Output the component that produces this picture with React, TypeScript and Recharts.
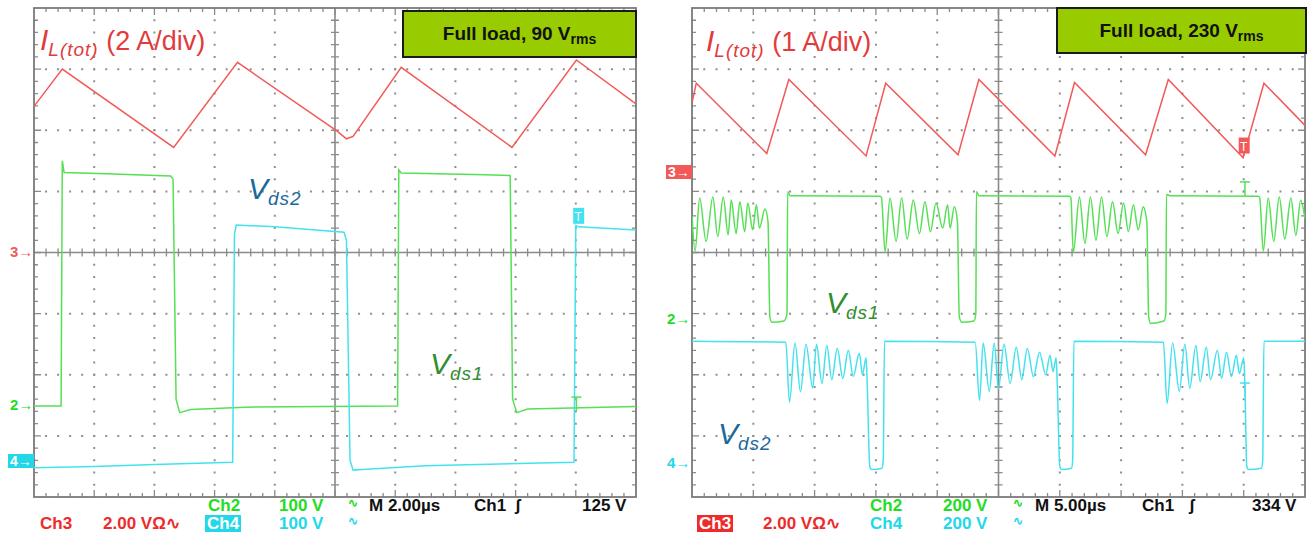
import React from "react";
import { LineChart, Line, XAxis, YAxis, ReferenceArea, ReferenceDot } from "recharts";

// time in divisions (0..10), value in divisions (-4..4, 0 = centre line)
const leftIL: [number, number][] = [
  [0, 2.39], [0.47, 3.0], [2.32, 1.72], [3.38, 3.11], [5.03, 1.99], [5.19, 1.86],
  [5.3, 1.9], [6.1, 3.03], [7.94, 1.72], [9.01, 3.15], [10, 2.43],
];
const leftVds1: [number, number][] = [
  [0, -2.51], [0.45, -2.51], [0.47, 1.5], [0.5, 1.31], [1.2, 1.29], [2.27, 1.25],
  [2.31, 1.2], [2.36, -2.4], [2.42, -2.62], [2.6, -2.57], [3.5, -2.53], [6.04, -2.51],
  [6.06, 1.35], [6.1, 1.3], [7.5, 1.27], [7.91, 1.26], [7.95, -2.4], [8.02, -2.62],
  [8.2, -2.56], [10, -2.52],
];
const leftVds2: [number, number][] = [
  [0, -3.52], [1, -3.5], [2, -3.47], [3.3, -3.43], [3.33, 0.3], [3.36, 0.45],
  [4.0, 0.42], [5.15, 0.33], [5.19, 0.2], [5.25, -3.4], [5.3, -3.56], [5.45, -3.55],
  [6.5, -3.49], [8.97, -3.43], [9.0, 0.44], [9.05, 0.42], [10, 0.37],
];

const rightIL: [number, number][] = [
  [0, 2.45], [0.07, 2.77], [1.22, 1.62], [1.58, 2.83], [2.84, 1.58], [3.16, 2.77],
  [4.34, 1.6], [4.68, 2.83], [5.92, 1.58], [6.24, 2.78], [7.4, 1.6], [7.77, 2.83],
  [8.99, 1.55], [9.33, 2.77], [10, 2.08],
];
const rightVds1: [number, number][] = [
  [0, 0.6], [0.05, 0.02], [0.125, 0.89], [0.23, 0.18], [0.34, 0.91], [0.42, 0.26],
  [0.51, 0.91], [0.59, 0.29], [0.64, 0.86], [0.72, 0.31], [0.78, 0.83], [0.86, 0.34],
  [0.91, 0.81], [0.99, 0.37], [1.05, 0.78], [1.1, 0.4], [1.19, 0.71], [1.24, 0.5],
  [1.27, -1.05], [1.3, -1.14], [1.5, -1.12], [1.55, -1.0], [1.56, 1.0], [1.6, 0.93],
  [3.07, 0.92],
  [3.09, 0.9], [3.15, 0.01], [3.23, 0.89], [3.33, 0.18], [3.42, 0.89], [3.51, 0.22],
  [3.61, 0.86], [3.71, 0.31], [3.8, 0.83], [3.89, 0.34], [3.98, 0.81], [4.09, 0.4],
  [4.17, 0.78], [4.21, 0.4], [4.28, 0.75], [4.33, 0.5], [4.36, -1.05], [4.4, -1.14],
  [4.6, -1.12], [4.63, -1.0], [4.64, 1.0], [4.68, 0.93], [6.16, 0.92],
  [6.18, 0.9], [6.22, 0.0], [6.32, 0.91], [6.41, 0.15], [6.5, 0.91], [6.59, 0.2],
  [6.68, 0.91], [6.77, 0.26], [6.86, 0.83], [6.95, 0.31], [7.04, 0.81], [7.12, 0.34],
  [7.2, 0.78], [7.28, 0.37], [7.36, 0.75], [7.42, 0.5], [7.45, -1.05], [7.48, -1.16],
  [7.7, -1.12], [7.73, -1.0], [7.74, 0.95], [7.8, 0.93], [9.24, 0.92],
  [9.26, 0.9], [9.32, 0.02], [9.4, 0.89], [9.49, 0.18], [9.58, 0.91], [9.67, 0.22],
  [9.77, 0.89], [9.85, 0.28], [9.93, 0.86], [10, 0.55],
];
const rightVds2: [number, number][] = [
  [0, -1.45], [1.53, -1.47],
  [1.59, -2.45], [1.68, -1.48], [1.77, -2.28], [1.86, -1.5], [1.97, -2.22], [2.03, -1.5],
  [2.12, -2.14], [2.2, -1.52], [2.28, -2.08], [2.37, -1.57], [2.46, -2.06], [2.55, -1.6],
  [2.63, -2.03], [2.73, -1.65], [2.78, -2.0], [2.84, -1.72], [2.86, -2.2], [2.9, -3.5],
  [2.93, -3.55], [3.1, -3.53], [3.12, -3.4], [3.14, -1.45], [4.62, -1.47],
  [4.69, -2.42], [4.75, -1.48], [4.85, -2.27], [4.93, -1.48], [5.0, -2.22], [5.09, -1.5],
  [5.19, -2.14], [5.29, -1.55], [5.38, -2.08], [5.47, -1.57], [5.57, -2.03], [5.67, -1.63],
  [5.77, -2.0], [5.84, -1.68], [5.89, -1.95], [5.94, -1.72], [5.96, -2.2], [6.0, -3.5],
  [6.03, -3.55], [6.19, -3.53], [6.21, -3.4], [6.23, -1.45], [7.69, -1.47],
  [7.75, -2.47], [7.84, -1.48], [7.95, -2.27], [8.04, -1.5], [8.12, -2.22], [8.22, -1.52],
  [8.29, -2.11], [8.39, -1.55], [8.46, -2.08], [8.57, -1.6], [8.64, -2.06], [8.72, -1.63],
  [8.8, -2.03], [8.88, -1.68], [8.93, -1.98], [9.0, -1.72], [9.02, -2.2], [9.05, -3.5],
  [9.08, -3.55], [9.29, -3.53], [9.31, -3.4], [9.33, -1.45], [10, -1.45],
];

const RED = "#f25a5a";
const GREEN = "#55e055";
const CYAN = "#44e2ee";
const SCOPE_FONT = '"Liberation Sans", Arial, sans-serif';

const toPts = (arr: [number, number][]) => arr.map(([t, v]) => ({ t, v }));

const M = 6;

// scope graticule, drawn inside the area that the chart's scales give for the full screen
function Graticule(p: any) {
  const { x, y, width, height } = p;
  const dx = width / 10;
  const dy = height / 8;
  const sx = dx / 5;
  const sy = dy / 5;
  const dots: React.ReactNode[] = [];
  for (let i = 1; i < 10; i++) {
    if (i === 5) continue;
    const xx = x + i * dx;
    dots.push(
      <line key={`v${i}`} x1={xx} y1={y} x2={xx} y2={y + height} stroke="#8f8f8f" strokeWidth={2}
        strokeDasharray={`2 ${sy - 2}`} strokeDashoffset={1} />
    );
  }
  for (let j = 1; j < 8; j++) {
    if (j === 4) continue;
    const yy = y + j * dy;
    dots.push(
      <line key={`h${j}`} x1={x} y1={yy} x2={x + width} y2={yy} stroke="#8f8f8f" strokeWidth={2}
        strokeDasharray={`2 ${sx - 2}`} strokeDashoffset={1} />
    );
  }
  let d = "";
  const cx = x + width / 2;
  const cy = y + height / 2;
  for (let k = 1; k < 50; k++) {
    const xx = x + k * sx;
    const big = k % 5 === 0 ? 3 : 0;
    d += `M${xx},${cy - 4}V${cy + 4}`;
    d += `M${xx},${y}v${4 + big}`;
    d += `M${xx},${y + height}v${-4 - big}`;
  }
  for (let k = 1; k < 40; k++) {
    const yy = y + k * sy;
    const big = k % 5 === 0 ? 3 : 0;
    d += `M${cx - 4},${yy}H${cx + 4}`;
    d += `M${x},${yy}h${4 + big}`;
    d += `M${x + width},${yy}h${-4 - big}`;
  }
  return (
    <g>
      {dots}
      <path d={d} stroke="#8a8a8a" strokeWidth={1.3} fill="none" />
      <line x1={cx} y1={y} x2={cx} y2={y + height} stroke="#8a8a8a" strokeWidth={1.6} />
      <line x1={x} y1={cy} x2={x + width} y2={cy} stroke="#8a8a8a" strokeWidth={1.6} />
      <rect x={x} y={y} width={width} height={height} fill="none" stroke="#7a7a7a" strokeWidth={1.8} />
    </g>
  );
}

type Props = {
  left: number;
  top: number;
  width: number;
  height: number;
  il: [number, number][];
  vds1: [number, number][];
  vds2: [number, number][];
  curve: "linear" | "monotone";
  children?: React.ReactNode;
};

function Scope({ left, top, width, height, il, vds1, vds2, curve, children }: Props) {
  return (
    <div style={{ position: "absolute", left: left - M, top: top - M }}>
      <LineChart width={width + 2 * M} height={height + 2 * M} margin={{ top: M, right: M, bottom: M, left: M }}>
        <XAxis type="number" dataKey="t" domain={[0, 10]} hide allowDataOverflow />
        <YAxis type="number" dataKey="v" domain={[-4, 4]} hide allowDataOverflow />
        <ReferenceArea x1={0} x2={10} y1={-4} y2={4} shape={(p: any) => <Graticule {...p} />} />
        <Line data={toPts(il)} dataKey="v" type="linear" dot={false} stroke={RED} strokeWidth={1.5} isAnimationActive={false} />
        <Line data={toPts(vds1)} dataKey="v" type={curve} dot={false} stroke={GREEN} strokeWidth={1.5} isAnimationActive={false} />
        <Line data={toPts(vds2)} dataKey="v" type={curve} dot={false} stroke={CYAN} strokeWidth={1.5} isAnimationActive={false} />
        {children}
      </LineChart>
    </div>
  );
}

const abs = (left: number, top: number, extra: React.CSSProperties = {}): React.CSSProperties => ({
  position: "absolute",
  left,
  top,
  whiteSpace: "nowrap",
  lineHeight: 1,
  ...extra,
});

function SigLabel({ left, top, main, sub, tail, color }: { left: number; top: number; main: string; sub: string; tail?: string; color: string }) {
  return (
    <div style={abs(left, top, { color, fontFamily: '"Liberation Sans", Arial, sans-serif' })}>
      <span style={{ fontStyle: "italic", fontSize: 30 }}>{main}</span>
      <span style={{ fontStyle: "italic", fontSize: 19, position: "relative", top: 6, letterSpacing: 1 }}>{sub}</span>
      {tail && <span style={{ fontSize: 27 }}>{tail}</span>}
    </div>
  );
}

function LoadBox({ left, top, width, height, text }: { left: number; top: number; width: number; height: number; text: string }) {
  return (
    <div
      style={{
        position: "absolute",
        left,
        top,
        width,
        height,
        boxSizing: "border-box",
        background: "#99cc00",
        border: "2px solid #1a1a1a",
        display: "flex",
        alignItems: "center",
        justifyContent: "center",
        fontFamily: '"Liberation Sans", Arial, sans-serif',
        fontWeight: "bold",
        fontSize: 19,
        color: "#111",
      }}
    >
      <span>
        {text}
        <span style={{ fontSize: 14, position: "relative", top: 4 }}>rms</span>
      </span>
    </div>
  );
}

function ST({ left, top, color, text, box, size = 17 }: { left: number; top: number; color: string; text: string; box?: boolean; size?: number }) {
  return (
    <div
      style={abs(left, top, {
        fontFamily: SCOPE_FONT,
        fontWeight: "bold",
        fontSize: size,
        color: box ? "#fff" : color,
        background: box ? color : "transparent",
        padding: box ? "0 2px" : 0,
      })}
    >
      {text}
    </div>
  );
}

const boxMarker = (color: string) => (props: any) => (
  <g>
    <rect x={props.cx - 5} y={props.cy - 8} width={11} height={16} fill={color} />
    <text x={props.cx} y={props.cy + 5} fill="#fff" fontSize={12} textAnchor="middle" fontFamily="Arial">T</text>
  </g>
);

const tMarker = (color: string) => (props: any) => (
  <g stroke={color} strokeWidth={1.5}>
    <line x1={props.cx} y1={props.cy - 7} x2={props.cx} y2={props.cy + 7} />
    <line x1={props.cx - 5} y1={props.cy - 7} x2={props.cx + 5} y2={props.cy - 7} />
  </g>
);

export default function App() {
  return (
    <div style={{ position: "absolute", left: 0, top: 0, width: 1309, height: 538, background: "#fff", overflow: "hidden" }}>
      <Scope left={34} top={8} width={602} height={489} il={leftIL} vds1={leftVds1} vds2={leftVds2} curve="linear">
        <ReferenceDot x={9.04} y={0.6} r={0} shape={boxMarker(CYAN)} />
        <ReferenceDot x={9.01} y={-2.48} r={0} shape={tMarker(GREEN)} />
      </Scope>
      <Scope left={692} top={8} width={613} height={489} il={rightIL} vds1={rightVds1} vds2={rightVds2} curve="monotone">
        <ReferenceDot x={9.0} y={1.75} r={0} shape={boxMarker(RED)} />
        <ReferenceDot x={9.02} y={1.04} r={0} shape={tMarker(GREEN)} />
        <ReferenceDot x={9.02} y={-2.25} r={0} shape={tMarker(CYAN)} />
      </Scope>

      {/* left panel annotations */}
      <SigLabel left={40} top={25} main="I" sub="L(tot)" tail=" (2 A/div)" color="#e23b3b" />
      <LoadBox left={402} top={10} width={235} height={48} text="Full load, 90 V" />
      <SigLabel left={248} top={174} main="V" sub="ds2" color="#1c6a9c" />
      <SigLabel left={430} top={349} main="V" sub="ds1" color="#318f31" />

      <ST left={10} top={244} color={RED} text="3→" size={15} />
      <ST left={10} top={397} color="#22dd22" text="2→" size={15} />
      <ST left={8} top={454} color="#22d8e8" text="4→" size={14} box />

      <ST left={208} top={497} color="#22dd22" text="Ch2" />
      <ST left={279} top={497} color="#22dd22" text="100 V" />
      <ST left={348} top={497} color="#22dd22" text="∿" size={12} />
      <ST left={369} top={497} color="#111" text="M 2.00µs" />
      <ST left={474} top={497} color="#111" text="Ch1" />
      <ST left={515} top={497} color="#111" text="ʃ" />
      <ST left={582} top={497} color="#111" text="125 V" />
      <ST left={40} top={515} color="#ee2a2a" text="Ch3" />
      <ST left={103} top={515} color="#ee2a2a" text="2.00 VΩ∿" />
      <ST left={205} top={515} color="#22d8e8" text="Ch4" box />
      <ST left={279} top={515} color="#22d8e8" text="100 V" />
      <ST left={348} top={515} color="#22d8e8" text="∿" size={12} />

      {/* right panel annotations */}
      <SigLabel left={706} top={26} main="I" sub="L(tot)" tail=" (1 A/div)" color="#e23b3b" />
      <LoadBox left={1056} top={7} width={251} height={47} text="Full load, 230 V" />
      <SigLabel left={826} top={288} main="V" sub="ds1" color="#318f31" />
      <SigLabel left={718} top={419} main="V" sub="ds2" color="#1c6a9c" />

      <ST left={666} top={165} color={RED} text="3→" size={14} box />
      <ST left={667} top={311} color="#22dd22" text="2→" size={15} />
      <ST left={667} top={455} color="#22d8e8" text="4→" size={15} />

      <ST left={870} top={497} color="#22dd22" text="Ch2" />
      <ST left={943} top={497} color="#22dd22" text="200 V" />
      <ST left={1013} top={497} color="#22dd22" text="∿" size={12} />
      <ST left={1035} top={497} color="#111" text="M 5.00µs" />
      <ST left={1142} top={497} color="#111" text="Ch1" />
      <ST left={1189} top={497} color="#111" text="ʃ" />
      <ST left={1252} top={497} color="#111" text="334 V" />
      <ST left={697} top={515} color="#ee2a2a" text="Ch3" box />
      <ST left={763} top={515} color="#ee2a2a" text="2.00 VΩ∿" />
      <ST left={870} top={515} color="#22d8e8" text="Ch4" />
      <ST left={943} top={515} color="#22d8e8" text="200 V" />
      <ST left={1013} top={515} color="#22d8e8" text="∿" size={12} />
    </div>
  );
}
